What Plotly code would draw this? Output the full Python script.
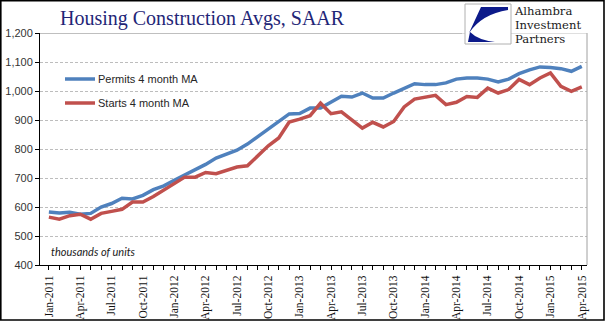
import plotly.graph_objects as go

# Monthly observations, Jan-2011 .. Apr-2015 (thousands of units, SAAR)
months = [f"{m}-{y}" for y in range(2011, 2016)
          for m in ["Jan", "Feb", "Mar", "Apr", "May", "Jun",
                    "Jul", "Aug", "Sep", "Oct", "Nov", "Dec"]][:52]

permits_4m = [583, 579, 582, 575, 578, 600, 612, 630, 628, 640, 660, 673,
              692, 710, 730, 747, 769, 783, 796, 817, 843, 869, 895, 921,
              922, 941, 941, 960, 982, 979, 993, 976, 976, 993, 1008, 1025,
              1022, 1022, 1028, 1041, 1045, 1045, 1041, 1031, 1041, 1060, 1073, 1083,
              1081, 1077, 1068, 1085]

starts_4m = [565, 558, 570, 575, 558, 578, 585, 592, 617, 617, 636, 658,
             680, 703, 703, 719, 715, 728, 738, 742, 775, 811, 838, 893,
             903, 915, 958, 922, 928, 901, 872, 892, 876, 895, 945, 972,
             979, 985, 953, 961, 981, 978, 1010, 993, 1005, 1040, 1022, 1045,
             1062, 1016, 999, 1014]

series_names = ["Permits 4 month MA", "Starts 4 month MA"]
series_colors = ["#4f81bd", "#c0504d"]

y_ticks = [400, 500, 600, 700, 800, 900, 1000, 1100, 1200]
label_step = 3

W, H = 605, 321
L, R, T, B = 40, 18, 33, 56
PW, PH = W - L - R, H - T - B


def px(x):
    """pixel column -> plot-area paper x"""
    return (x - L) / PW


def py(y):
    """pixel row -> plot-area paper y"""
    return (H - B - y) / PH


idx = list(range(len(months)))
fig = go.Figure()
for vals, name, col in zip([permits_4m, starts_4m], series_names, series_colors):
    fig.add_trace(go.Scatter(x=idx, y=vals, mode="lines", name=name,
                             line=dict(color=col, width=3.5), showlegend=False))

shapes = []
annotations = []

# grey plot border (top and right edges)
shapes.append(dict(type="line", xref="paper", yref="y", x0=0, x1=1, y0=1200, y1=1200,
                   line=dict(color="#808080", width=1)))
shapes.append(dict(type="line", xref="paper", yref="paper", x0=1, x1=1, y0=0, y1=1,
                   line=dict(color="#a0a0a0", width=1)))

# legend drawn inside the plot area
for k, (name, col) in enumerate(zip(series_names, series_colors)):
    yy = 79 + 24 * k
    shapes.append(dict(type="line", xref="paper", yref="paper",
                       x0=px(65), x1=px(95), y0=py(yy), y1=py(yy),
                       line=dict(color=col, width=3.5)))
    annotations.append(dict(text=name, xref="paper", yref="paper", x=px(96), y=py(yy),
                            xanchor="left", yanchor="middle", showarrow=False,
                            font=dict(family="Liberation Sans, Arial", size=11, color="#262626")))

annotations.append(dict(text="<i>thousands of units</i>", xref="paper", yref="paper",
                        x=px(49), y=py(251), xanchor="left", yanchor="middle", showarrow=False,
                        font=dict(family="Lato, Open Sans", size=11, color="#222222")))

# logo: white backing, framed square with a navy mark, firm name
shapes.append(dict(type="rect", xref="paper", yref="paper", x0=px(462), x1=px(586.5),
                   y0=py(33.5), y1=py(0), fillcolor="white", line=dict(width=0), layer="above"))
shapes.append(dict(type="rect", xref="paper", yref="paper", x0=px(465), x1=px(511),
                   y0=py(44), y1=py(4), fillcolor="white",
                   line=dict(color="#b0b0b0", width=1), layer="above"))


def path(points_cmds):
    out = []
    for cmd, *pts in points_cmds:
        coords = " ".join(f"{px(a):.4f},{py(b):.4f}" for a, b in pts)
        out.append(f"{cmd} {coords}")
    return " ".join(out) + " Z"


navy = "#0c1a8a"
upper_mark = path([("M", (481, 7)), ("L", (508, 7)), ("L", (508, 10)),
                   ("Q", (482, 14), (469, 33)), ("L", (481, 7))])
lower_mark = path([("M", (468, 42)), ("L", (495, 42)), ("Q", (478, 40), (470, 32))])
for p in (upper_mark, lower_mark):
    shapes.append(dict(type="path", xref="paper", yref="paper", path=p,
                       fillcolor=navy, line=dict(width=0), layer="above"))

# firm name set as one tightly leaded block
firm = "<br>".join(f"<span style='font-size:11.6px'>{w}</span>"
                   for w in ["Alhambra", "Investment", "Partners"])
annotations.append(dict(text=firm, xref="paper", yref="paper", x=px(513), y=py(25.5),
                        xanchor="left", yanchor="middle", align="left", showarrow=False,
                        borderpad=0,
                        font=dict(family="DejaVu Serif, Liberation Serif", size=10.6,
                                  color="#1a1a1a")))

# outer frame
shapes.append(dict(type="rect", xref="paper", yref="paper", x0=px(0.8), x1=px(604),
                   y0=py(320), y1=py(0.8), line=dict(color="black", width=1.6),
                   fillcolor="rgba(0,0,0,0)", layer="above"))

fig.update_layout(
    width=W, height=H,
    margin=dict(l=L, r=R, t=T, b=B, autoexpand=False),
    paper_bgcolor="white", plot_bgcolor="white",
    title=dict(text="Housing Construction Avgs, SAAR", xref="container", yref="container",
               x=60 / W, y=1 - 18 / H, xanchor="left", yanchor="middle",
               font=dict(family="Liberation Serif, Times New Roman", size=20, color="#1f2677")),
    shapes=shapes, annotations=annotations,
    xaxis=dict(range=[-0.85, 51.5], tickmode="array", automargin=False,
               tickvals=idx[::label_step], ticktext=months[::label_step],
               tickangle=-90, ticks="outside", ticklen=4, tickcolor="black",
               ticklabelstandoff=1,
               minor=dict(tickvals=idx, ticks="outside", ticklen=4, tickcolor="black"),
               showline=True, linecolor="black", linewidth=1, showgrid=False, zeroline=False,
               tickfont=dict(family="Liberation Serif, Times New Roman", size=11.5, color="#111")),
    yaxis=dict(range=[400, 1200], tickvals=y_ticks, automargin=False,
               ticktext=[f"{v:,}" for v in y_ticks],
               ticks="outside", ticklen=4, tickcolor="black",
               showline=True, linecolor="black", linewidth=1,
               showgrid=True, gridcolor="#bdbdbd", griddash="3px,2px", gridwidth=1,
               zeroline=False,
               tickfont=dict(family="Liberation Sans, Arial", size=11, color="#333")),
)

fig.write_html("out.html")
